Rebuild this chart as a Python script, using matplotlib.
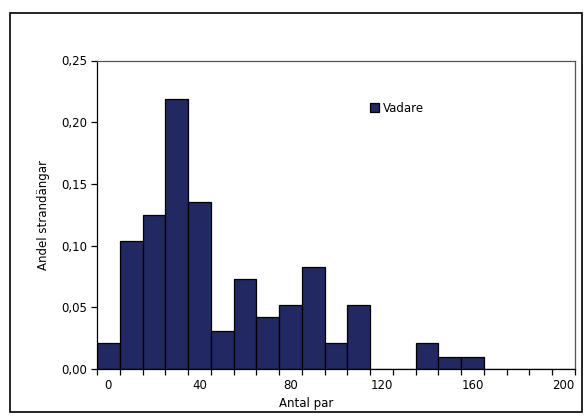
import matplotlib.pyplot as plt
from matplotlib.patches import Rectangle

klasser = list(range(0, 210, 10))
andel = [0.021, 0.104, 0.125, 0.219, 0.135, 0.031, 0.073, 0.042, 0.052, 0.083,
         0.021, 0.052, 0.0, 0.0, 0.021, 0.010, 0.010, 0.0, 0.0, 0.0, 0.0]
y_ticks = [0.0, 0.05, 0.10, 0.15, 0.20, 0.25]

plt.rcParams['font.family'] = 'DejaVu Sans'
plt.rcParams['font.size'] = 8.5

fig = plt.figure(figsize=(5.86, 4.16), dpi=100)
ax = fig.add_axes([97 / 586, 1 - 369 / 416, 478 / 586, 308.5 / 416])

pos = list(range(len(klasser)))
ax.bar(pos, andel, width=1.0, color="#222862", edgecolor="black", linewidth=0.9, label="Vadare")

ax.set_xlim(-0.5, len(klasser) - 0.5)
ax.set_ylim(0, 0.25)
ax.set_yticks(y_ticks)
ax.set_yticklabels([f"{v:.2f}".replace(".", ",") for v in y_ticks])

ax.set_xticks(pos[::4])
ax.set_xticklabels([str(k) for k in klasser[::4]])
ax.set_xticks([p - 0.5 for p in pos] + [pos[-1] + 0.5], minor=True)
ax.tick_params(axis="x", which="major", length=0, pad=7)
ax.tick_params(axis="x", which="minor", length=4, direction="out", width=0.9)
ax.tick_params(axis="y", length=4, direction="out", width=0.9, pad=3)

for s in ax.spines.values():
    s.set_linewidth(0.9)
    s.set_color("black")
ax.spines["top"].set_color("#555555")
ax.spines["right"].set_color("#555555")

ax.set_ylabel("Andel strandängar", labelpad=8)
fig.text(306 / 586, 1 - 403 / 416, "Antal par", ha="center", va="center")

ax.legend(loc="upper left", bbox_to_anchor=(273 / 478, 1 - 41 / 308.5), frameon=False,
          handlelength=0.8, handleheight=0.8, handletextpad=0.3, borderpad=0, borderaxespad=0)

fig.patches.append(Rectangle((10 / 586, 1 - 412 / 416), 572 / 586, 399 / 416,
                             transform=fig.transFigure, fill=False, edgecolor="black", linewidth=1.2))

fig.savefig("out.png", dpi=100)
